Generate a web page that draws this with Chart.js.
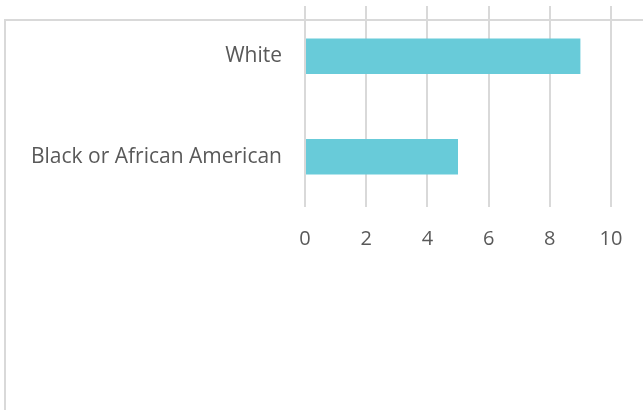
<!DOCTYPE html>
<html>
<head>
<meta charset="utf-8">
<script src="https://cdn.jsdelivr.net/npm/chart.js@4"></script>
<style>
  html, body { margin: 0; padding: 0; background: #fff; }
  #wrap { position: relative; width: 643px; height: 410px; }
</style>
</head>
<body>
<div id="wrap"><canvas id="race-chart"></canvas></div>
<script>
// Chart data
const categories = ['White', 'Black or African American'];
const counts = [9, 5];
const xTicks = [0, 2, 4, 6, 8, 10];

const barColor = '#68CBD9';
const gridColor = '#D9D9D9';
const textColor = '#595959';

// outer frame of the chart box (left + top edges visible in the crop)
const framePlugin = {
  id: 'frame',
  beforeDraw(c) {
    const ctx = c.ctx;
    ctx.save();
    ctx.strokeStyle = gridColor;
    ctx.lineWidth = 2;
    ctx.beginPath();
    ctx.moveTo(5, 410);
    ctx.lineTo(5, 20);
    ctx.lineTo(643, 20);
    ctx.stroke();
    ctx.restore();
  },
};

const ctx = document.getElementById('race-chart');

new Chart(ctx, {
  type: 'bar',
  data: {
    labels: categories,
    datasets: [{
      data: counts,
      backgroundColor: barColor,
      borderWidth: 0,
      categoryPercentage: 1,
      barPercentage: 0.355,
    }],
  },
  options: {
    indexAxis: 'y',
    responsive: true,
    maintainAspectRatio: false,
    animation: false,
    layout: {
      padding: { top: 6, right: 32, left: 0, bottom: 0 },
    },
    scales: {
      x: {
        min: 0,
        max: 10,
        afterBuildTicks: (s) => { s.ticks = xTicks.map(v => ({ value: v })); },
        afterFit: (s) => {
          s.height = 203;
          s.paddingLeft = 0;
          s.paddingRight = 0;
        },
        border: { display: false },
        grid: { color: gridColor, lineWidth: 2, drawTicks: false },
        ticks: {
          color: textColor,
          padding: 20,
          font: { family: 'Open Sans', size: 20 },
        },
      },
      y: {
        afterFit: (s) => {
          s.width = 305;
          s.paddingTop = 0;
          s.paddingBottom = 0;
        },
        border: { display: false },
        grid: { display: false, drawTicks: false },
        ticks: {
          color: textColor,
          padding: 23,
          font: { family: 'Open Sans', size: 21 },
        },
      },
    },
    plugins: {
      legend: { display: false },
      tooltip: { enabled: false },
    },
  },
  plugins: [framePlugin],
});
</script>
</body>
</html>
